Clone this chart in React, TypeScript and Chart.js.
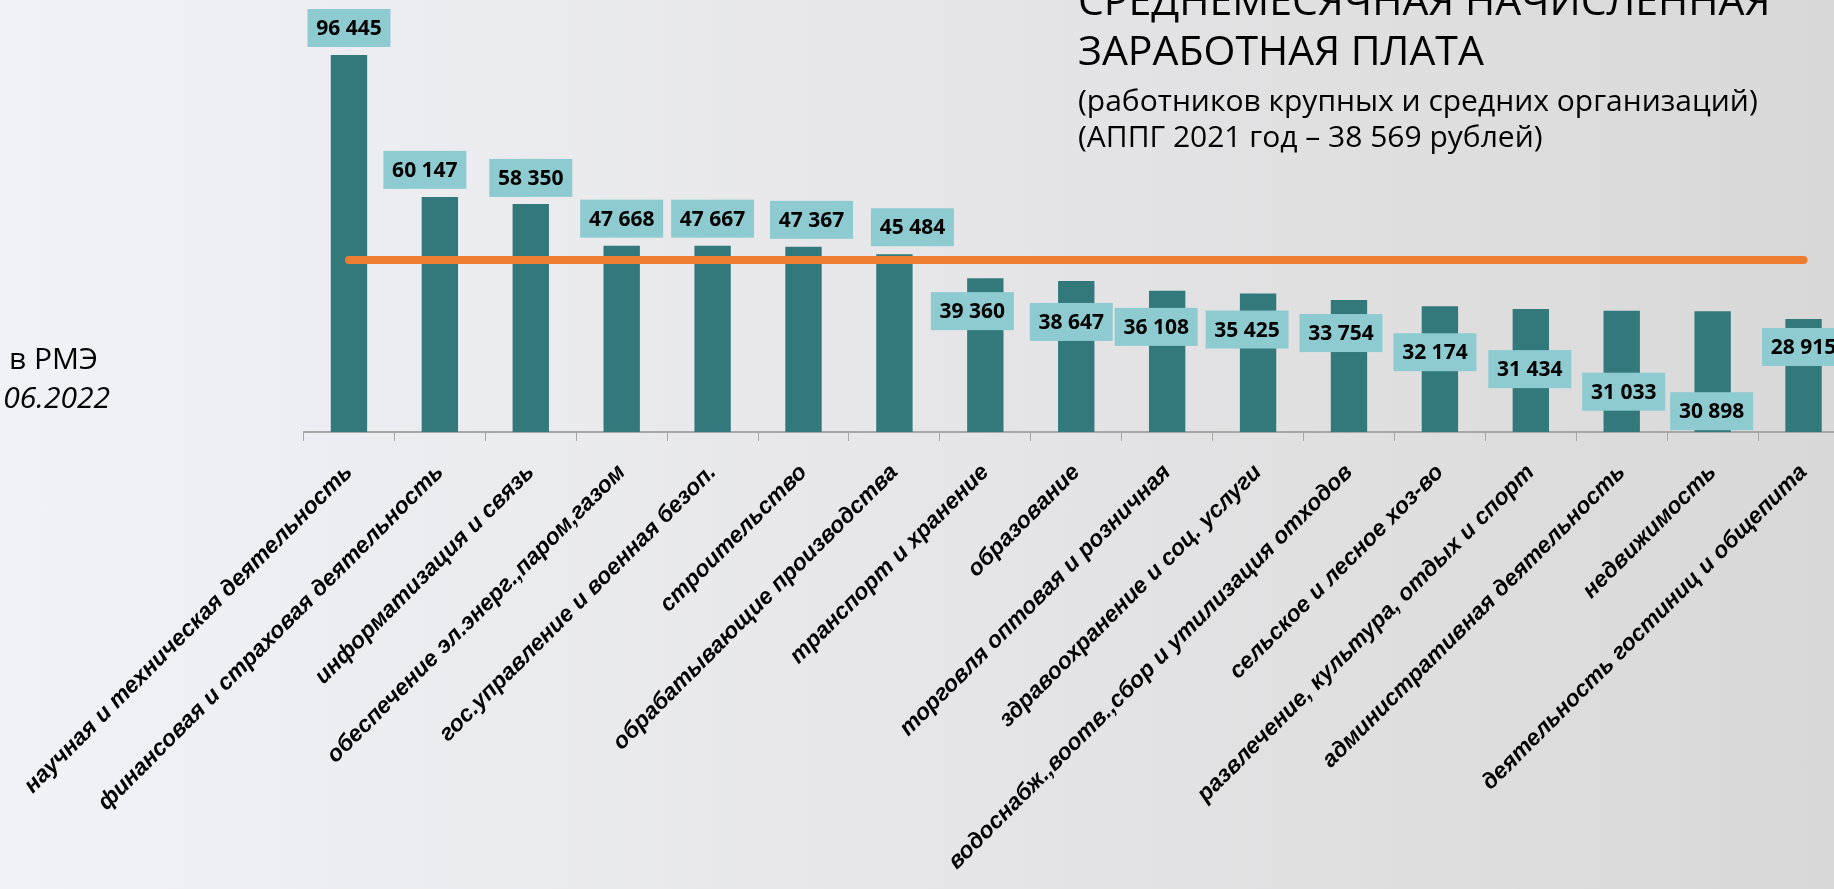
import React, { useEffect, useRef } from "react";
import { Chart, registerables } from "chart.js";

Chart.register(...registerables);

// ---- data ----
const categories: string[] = [
  "научная и техническая деятельность",
  "финансовая и страховая деятельность",
  "информатизация и связь",
  "обеспечение эл.энерг.,паром,газом",
  "гос.управление и военная безоп.",
  "строительство",
  "обрабатывающие производства",
  "транспорт и хранение",
  "образование",
  "торговля оптовая и розничная",
  "здравоохранение и соц. услуги",
  "водоснабж.,воотв.,сбор и утилизация отходов",
  "сельское и лесное хоз-во",
  "развлечение, культура, отдых и спорт",
  "административная деятельность",
  "недвижимость",
  "деятельность гостиниц и общепита",
];

const salaries: number[] = [
  96445, 60147, 58350, 47668, 47667, 47367, 45484, 39360, 38647, 36108, 35425,
  33754, 32174, 31434, 31033, 30898, 28915,
];

// level of the orange line as drawn in the picture
const referenceLevel = 44000;

// placement of the value boxes relative to the bar top (px)
const labelShiftX: number[] = [0, -15, 0, 0, 0, 8, 18, -13, -5, -11, -11, -8, -5, -1, 2, -1, 0];
const labelShiftY: number[] = [-27, -27, -26, -27, -27, -27, -27, 33, 41, 36, 36, 33, 46, 60, 81, 100, 28];

const fmt = (v: number) => String(v).replace(/\B(?=(\d{3})+(?!\d))/g, " ");

const valueBoxes = {
  id: "valueBoxes",
  afterDatasetsDraw(chart: any) {
    const meta = chart.getDatasetMeta(0);
    const ctx = chart.ctx;
    ctx.save();
    ctx.font = "bold 21px 'Open Sans'";
    ctx.textAlign = "center";
    ctx.textBaseline = "middle";
    meta.data.forEach((el: any, i: number) => {
      const cx = el.x + labelShiftX[i];
      const cy = el.y + labelShiftY[i];
      ctx.fillStyle = "#8ECBD0";
      ctx.fillRect(cx - 41.5, cy - 19, 83, 38);
      ctx.fillStyle = "#000000";
      ctx.fillText(fmt(salaries[i]), cx, cy + 1);
    });
    ctx.restore();
  },
};

export default function App() {
  const ref = useRef<HTMLCanvasElement | null>(null);

  useEffect(() => {
    if (!ref.current) return;
    const chart = new Chart(ref.current, {
      type: "bar",
      data: {
        labels: categories,
        datasets: [
          {
            type: "bar",
            data: salaries,
            backgroundColor: "#33787B",
            barPercentage: 0.4,
            categoryPercentage: 1,
            order: 1,
          } as any,
          {
            type: "line",
            data: categories.map(() => referenceLevel),
            borderColor: "#ED7D31",
            borderWidth: 8,
            borderCapStyle: "round",
            pointRadius: 0,
            fill: false,
            order: 0,
          } as any,
        ],
      },
      options: {
        responsive: false,
        animation: false,
        devicePixelRatio: 1,
        layout: { padding: { left: 303.5, right: 1, top: 41.1, bottom: 0 } },
        plugins: {
          legend: { display: false },
          tooltip: { enabled: false },
        },
        scales: {
          y: { display: false, min: 0, max: 100000 },
          x: {
            offset: true,
            grid: {
              offset: true,
              drawOnChartArea: false,
              drawTicks: true,
              tickLength: 9,
              color: "#A6A6A6",
              lineWidth: 1,
            },
            border: { display: true, color: "#A6A6A6", width: 2 },
            ticks: {
              autoSkip: false,
              minRotation: 45,
              maxRotation: 45,
              padding: 18,
              color: "#000000",
              font: { family: "'Liberation Sans'", size: 23, weight: "bold", style: "italic" },
            },
            afterFit: (s: any) => {
              s.height = 457;
              s.paddingLeft = 0;
              s.paddingRight = 0;
            },
          } as any,
        },
      },
      plugins: [valueBoxes],
    });
    return () => chart.destroy();
  }, []);

  const font = "'Open Sans', sans-serif";
  const txt = (extra: React.CSSProperties): React.CSSProperties => ({
    position: "absolute",
    whiteSpace: "nowrap",
    fontFamily: font,
    color: "#000",
    margin: 0,
    ...extra,
  });

  return (
    <div
      style={{
        position: "fixed",
        left: 0,
        top: 0,
        width: 1834,
        height: 889,
        overflow: "hidden",
        background: "linear-gradient(to right, #F1F2F6 0%, #E6E6E8 50%, #D8D8D8 100%)",
      }}
    >
      <canvas
        ref={ref}
        width={1850}
        height={889}
        style={{ position: "absolute", left: 0, top: 0, width: 1850, height: 889 }}
      />
      <div style={txt({ left: 1078, top: -21.4, fontSize: 41, lineHeight: "41px" })}>
        СРЕДНЕМЕСЯЧНАЯ НАЧИСЛЕННАЯ
      </div>
      <div style={txt({ left: 1078, top: 28.6, fontSize: 41, lineHeight: "41px" })}>
        ЗАРАБОТНАЯ ПЛАТА
      </div>
      <div style={txt({ left: 1078, top: 85.4, fontSize: 30, lineHeight: "30px" })}>
        (работников крупных и средних организаций)
      </div>
      <div style={txt({ left: 1078, top: 121.4, fontSize: 30, lineHeight: "30px" })}>
        (АППГ 2021 год – 38 569 рублей)
      </div>
      <div style={txt({ left: 9, top: 343.4, fontSize: 30, lineHeight: "30px" })}>в РМЭ</div>
      <div
        style={txt({
          right: 1834 - 110,
          top: 382.4,
          fontSize: 30,
          lineHeight: "30px",
          fontStyle: "italic",
          textAlign: "right",
        })}
      >
        .06.2022
      </div>
    </div>
  );
}
